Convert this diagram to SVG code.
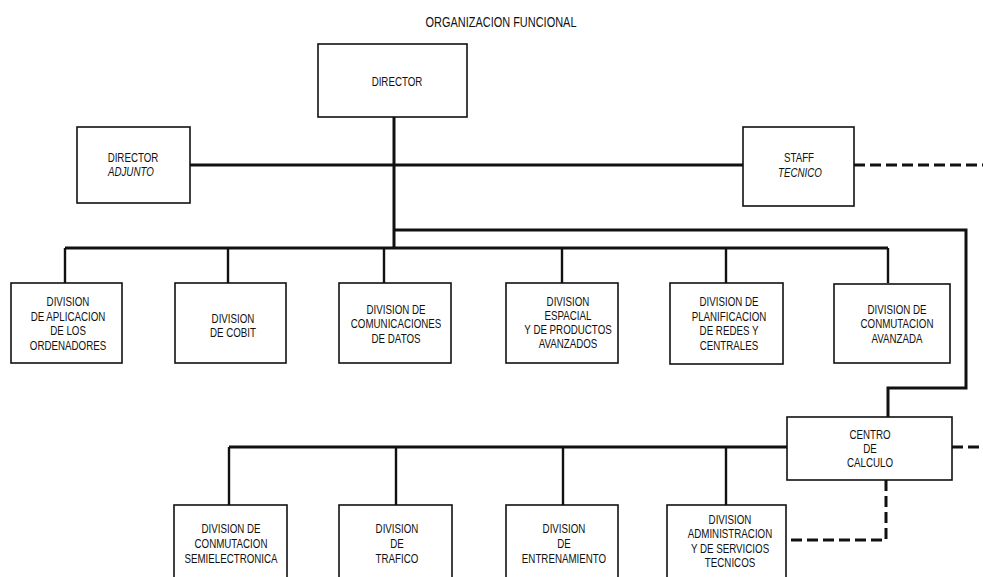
<svg xmlns="http://www.w3.org/2000/svg" width="983" height="577" viewBox="0 0 983 577">
<style>
.box{fill:#fff;stroke:#111;stroke-width:1.6}
.t{font-family:"Liberation Sans",Arial,sans-serif;font-size:13px;fill:#111;text-anchor:middle;transform-box:fill-box;transform-origin:center;transform:scaleX(0.75)}
.i{font-style:italic}
.ln{fill:none;stroke:#111;stroke-width:3}
.dr{fill:none;stroke:#111;stroke-width:2.4}
.ds{fill:none;stroke:#111;stroke-width:3;stroke-dasharray:11,5}
.title{font-family:"Liberation Sans",Arial,sans-serif;font-size:15px;fill:#111;text-anchor:middle}
</style>
<rect width="983" height="577" fill="#fff"/>
<text class="title" x="501" y="27" textLength="151" lengthAdjust="spacingAndGlyphs">ORGANIZACION FUNCIONAL</text>
<g id="connectors">
<path class="ln" d="M394,117 V248"/>
<path class="ln" d="M190,165 H743"/>
<path class="ds" d="M854,165 H983"/>
<path class="ln" d="M394,230 H966 V388 H888 V417"/>
<path class="ln" d="M65,248 H888"/>
<path class="dr" d="M65,248 V283 M228,248 V283 M384,248 V283 M562,248 V283 M726,248 V283 M888,248 V283"/>
<path class="ln" d="M229,447 H787"/>
<path class="dr" d="M229,447 V505 M396,447 V505 M563,447 V505 M726,447 V505"/>
<path class="ds" d="M952,447 H983"/>
<path class="ds" d="M886,480 V540 H786"/>
</g>
<g id="director"><rect class="box" x="318" y="44" width="149" height="73"/><text class="t" x="397" y="86">DIRECTOR</text></g>
<g id="director-adjunto"><rect class="box" x="77" y="127" width="113" height="76"/><text class="t" x="133" y="162">DIRECTOR</text><text class="t i" x="131" y="176">ADJUNTO</text></g>
<g id="staff-tecnico"><rect class="box" x="743" y="127" width="111" height="79"/><text class="t" x="799" y="162">STAFF</text><text class="t i" x="800" y="177">TECNICO</text></g>
<g id="div-aplicacion"><rect class="box" x="11" y="283" width="111" height="80"/><text class="t" x="68" y="306">DIVISION</text><text class="t" x="68" y="321">DE APLICACION</text><text class="t" x="68" y="335">DE LOS</text><text class="t" x="68" y="350">ORDENADORES</text></g>
<g id="div-cobit"><rect class="box" x="175" y="283" width="111" height="80"/><text class="t" x="233" y="323">DIVISION</text><text class="t" x="233" y="337">DE COBIT</text></g>
<g id="div-comunicaciones"><rect class="box" x="339" y="283" width="112" height="80"/><text class="t" x="396" y="314">DIVISION DE</text><text class="t" x="396" y="328">COMUNICACIONES</text><text class="t" x="396" y="343">DE DATOS</text></g>
<g id="div-espacial"><rect class="box" x="506" y="283" width="112" height="80"/><text class="t" x="568" y="306">DIVISION</text><text class="t" x="568" y="320">ESPACIAL</text><text class="t" x="568" y="334">Y DE PRODUCTOS</text><text class="t" x="568" y="348">AVANZADOS</text></g>
<g id="div-planificacion"><rect class="box" x="670" y="283" width="113" height="81"/><text class="t" x="729" y="306">DIVISION DE</text><text class="t" x="729" y="321">PLANIFICACION</text><text class="t" x="729" y="335">DE REDES Y</text><text class="t" x="729" y="350">CENTRALES</text></g>
<g id="div-conmutacion-avanzada"><rect class="box" x="834" y="284" width="116" height="79"/><text class="t" x="897" y="314">DIVISION DE</text><text class="t" x="897" y="328">CONMUTACION</text><text class="t" x="897" y="343">AVANZADA</text></g>
<g id="centro-calculo"><rect class="box" x="787" y="417" width="165" height="63"/><text class="t" x="870" y="439">CENTRO</text><text class="t" x="870" y="453">DE</text><text class="t" x="870" y="467">CALCULO</text></g>
<g id="div-semielectronica"><rect class="box" x="174" y="505" width="113" height="90"/><text class="t" x="231" y="533">DIVISION DE</text><text class="t" x="231" y="548">CONMUTACION</text><text class="t" x="231" y="563">SEMIELECTRONICA</text></g>
<g id="div-trafico"><rect class="box" x="339" y="505" width="113" height="90"/><text class="t" x="397" y="533">DIVISION</text><text class="t" x="397" y="548">DE</text><text class="t" x="397" y="563">TRAFICO</text></g>
<g id="div-entrenamiento"><rect class="box" x="506" y="505" width="112" height="90"/><text class="t" x="564" y="533">DIVISION</text><text class="t" x="564" y="548">DE</text><text class="t" x="564" y="563">ENTRENAMIENTO</text></g>
<g id="div-administracion"><rect class="box" x="667" y="505" width="119" height="90"/><text class="t" x="730" y="524">DIVISION</text><text class="t" x="730" y="538">ADMINISTRACION</text><text class="t" x="730" y="553">Y DE SERVICIOS</text><text class="t" x="730" y="567">TECNICOS</text></g>
</svg>
